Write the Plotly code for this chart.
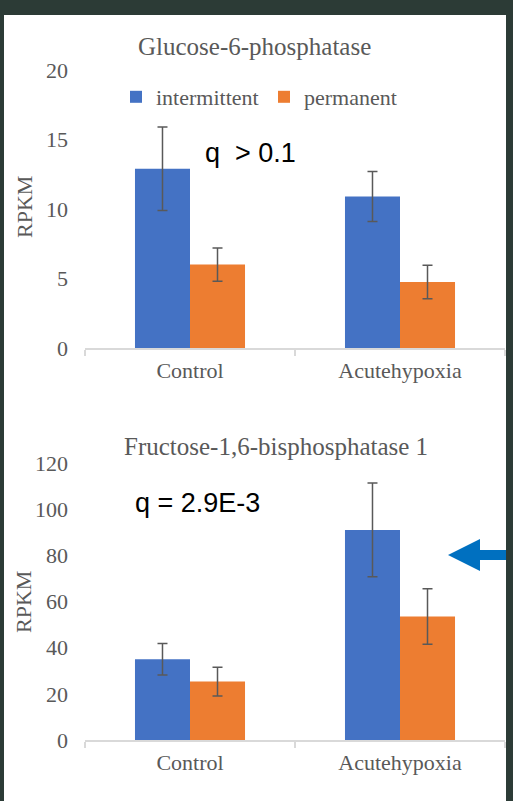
import plotly.graph_objects as go

# ---- data ----
categories = ["Control", "Acutehypoxia"]
series_names = ["intermittent", "permanent"]

g6p_intermittent = [12.9, 10.9]
g6p_intermittent_err = [3.0, 1.8]
g6p_permanent = [6.0, 4.75]
g6p_permanent_err = [1.2, 1.2]

fbp_intermittent = [35.0, 91.0]
fbp_intermittent_err = [6.8, 20.3]
fbp_permanent = [25.3, 53.5]
fbp_permanent_err = [6.2, 12.0]

title_top = "Glucose-6-phosphatase"
title_bottom = "Fructose-1,6-bisphosphatase 1"
q_top = "q  > 0.1"
q_bottom = "q = 2.9E-3"
y_label = "RPKM"

# ---- style ----
W, H = 513, 801
BLUE = "#4472C4"
ORANGE = "#ED7D31"
GREY = "#595959"
AXIS = "#D9D9D9"
DARK = "#2C3B36"
SERIF = "Liberation Serif, Times New Roman, serif"
SANS = "Liberation Sans, Arial, sans-serif"


def px(x):
    return x / W


def py(y):
    return 1 - y / H


fig = go.Figure()

err_style = dict(type="data", color=GREY, thickness=1.5, width=5, visible=True)

fig.add_trace(go.Bar(x=categories, y=g6p_intermittent, name=series_names[0],
                     marker=dict(color=BLUE, line=dict(width=0)),
                     error_y=dict(array=g6p_intermittent_err, **err_style),
                     xaxis="x", yaxis="y", legendgroup="a"))
fig.add_trace(go.Bar(x=categories, y=g6p_permanent, name=series_names[1],
                     marker=dict(color=ORANGE, line=dict(width=0)),
                     error_y=dict(array=g6p_permanent_err, **err_style),
                     xaxis="x", yaxis="y", legendgroup="b"))
fig.add_trace(go.Bar(x=categories, y=fbp_intermittent, name=series_names[0],
                     marker=dict(color=BLUE, line=dict(width=0)),
                     error_y=dict(array=fbp_intermittent_err, **err_style),
                     xaxis="x2", yaxis="y2", legendgroup="a", showlegend=False))
fig.add_trace(go.Bar(x=categories, y=fbp_permanent, name=series_names[1],
                     marker=dict(color=ORANGE, line=dict(width=0)),
                     error_y=dict(array=fbp_permanent_err, **err_style),
                     xaxis="x2", yaxis="y2", legendgroup="b", showlegend=False))

xcommon = dict(type="category", range=[-0.5, 1.5], showline=True, linecolor=AXIS,
               linewidth=1.5, ticks="outside", tickson="boundaries", ticklen=6,
               tickcolor=AXIS, tickwidth=1.5, showgrid=False, zeroline=False,
               tickfont=dict(family=SERIF, size=22, color=GREY), automargin=False,
               domain=[px(85), px(505)], ticklabelstandoff=2)
ycommon = dict(showline=False, showgrid=False, zeroline=False, ticks="",
               tickfont=dict(family=SERIF, size=22, color=GREY), automargin=False,
               ticklabelstandoff=16, tick0=0)

fig.update_layout(
    width=W, height=H,
    margin=dict(l=0, r=0, t=0, b=0, pad=0, autoexpand=False),
    paper_bgcolor=DARK,
    plot_bgcolor="rgba(0,0,0,0)",
    barmode="group", bargap=0.476, bargroupgap=0,
    xaxis=dict(anchor="y", **xcommon),
    yaxis=dict(anchor="x", domain=[py(348), py(70)], range=[0, 20], dtick=5, **ycommon),
    xaxis2=dict(anchor="y2", **xcommon),
    yaxis2=dict(anchor="x2", domain=[py(740), py(463)], range=[0, 120], dtick=20, **ycommon),
    showlegend=True,
    legend=dict(orientation="h", x=px(116), xanchor="left", y=py(97), yanchor="middle",
                font=dict(family=SERIF, size=22, color=GREY), bgcolor="rgba(0,0,0,0)",
                itemwidth=30, entrywidth=103, entrywidthmode="pixels",
                traceorder="normal"),
    font=dict(family=SERIF, color=GREY),
)

# white panel and arrow
fig.add_shape(type="rect", xref="paper", yref="paper", x0=px(4), x1=px(506), y0=0, y1=py(15),
              fillcolor="white", line=dict(width=0), layer="below")
arrow_pts = [(448, 555), (480, 539), (480, 550), (506, 550), (506, 560), (480, 560), (480, 571)]
path = "M " + " L ".join(f"{px(a):.5f},{py(b):.5f}" for a, b in arrow_pts) + " Z"
fig.add_shape(type="path", xref="paper", yref="paper", path=path,
              fillcolor="#0070C0", line=dict(width=0), layer="above")

ann = []
ann.append(dict(text=title_top, x=px(254), y=py(46), xref="paper", yref="paper",
                showarrow=False, xanchor="center", yanchor="middle",
                font=dict(family=SERIF, size=25, color=GREY)))
ann.append(dict(text=title_bottom, x=px(276), y=py(446), xref="paper", yref="paper",
                showarrow=False, xanchor="center", yanchor="middle",
                font=dict(family=SERIF, size=25, color=GREY)))
ann.append(dict(text=q_top, x=px(250), y=py(153), xref="paper", yref="paper",
                showarrow=False, xanchor="center", yanchor="middle",
                font=dict(family=SANS, size=27, color="black")))
ann.append(dict(text=q_bottom, x=px(197), y=py(503), xref="paper", yref="paper",
                showarrow=False, xanchor="center", yanchor="middle",
                font=dict(family=SANS, size=27, color="black")))
ann.append(dict(text=y_label, x=px(25), y=py(207), xref="paper", yref="paper",
                showarrow=False, xanchor="center", yanchor="middle", textangle=-90,
                font=dict(family=SERIF, size=22, color=GREY)))
ann.append(dict(text=y_label, x=px(23), y=py(602), xref="paper", yref="paper",
                showarrow=False, xanchor="center", yanchor="middle", textangle=-90,
                font=dict(family=SERIF, size=22, color=GREY)))
fig.update_layout(annotations=ann)

fig.write_html("out.html")
